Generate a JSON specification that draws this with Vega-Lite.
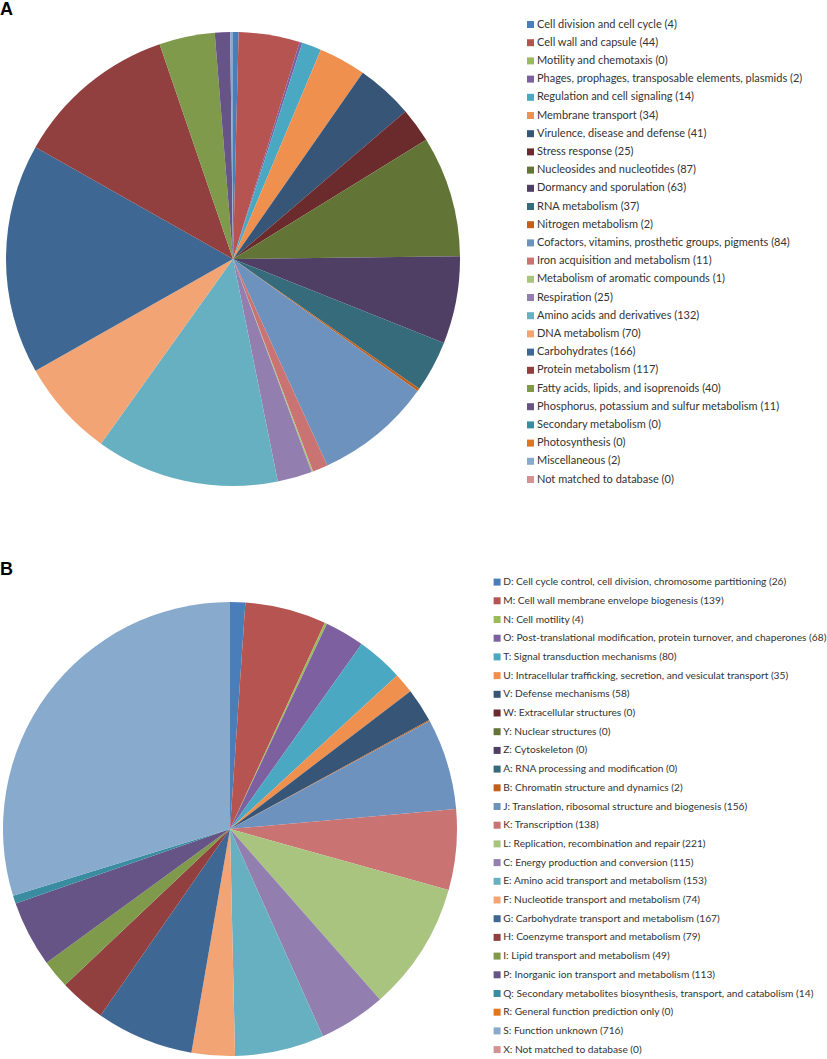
{
  "$schema": "https://vega.github.io/schema/vega-lite/v6.json",
  "padding": {"left": 0, "top": 1, "right": 0, "bottom": 0},
  "background": "white",
  "config": {"view": {"stroke": null}},
  "spacing": 75,
  "resolve": {"scale": {"color": "independent"}},
  "datasets": {
    "A": [
      {"n": 1, "label": "Cell division and cell cycle (4)", "count": 4},
      {"n": 2, "label": "Cell wall and capsule (44)", "count": 44},
      {"n": 3, "label": "Motility and chemotaxis (0)", "count": 0},
      {"n": 4, "label": "Phages, prophages, transposable elements, plasmids (2)", "count": 2},
      {"n": 5, "label": "Regulation and cell signaling (14)", "count": 14},
      {"n": 6, "label": "Membrane transport (34)", "count": 34},
      {"n": 7, "label": "Virulence, disease and defense (41)", "count": 41},
      {"n": 8, "label": "Stress response (25)", "count": 25},
      {"n": 9, "label": "Nucleosides and nucleotides (87)", "count": 87},
      {"n": 10, "label": "Dormancy and sporulation (63)", "count": 63},
      {"n": 11, "label": "RNA metabolism (37)", "count": 37},
      {"n": 12, "label": "Nitrogen metabolism (2)", "count": 2},
      {"n": 13, "label": "Cofactors, vitamins, prosthetic groups, pigments (84)", "count": 84},
      {"n": 14, "label": "Iron acquisition and metabolism (11)", "count": 11},
      {"n": 15, "label": "Metabolism of aromatic compounds (1)", "count": 1},
      {"n": 16, "label": "Respiration (25)", "count": 25},
      {"n": 17, "label": "Amino acids and derivatives (132)", "count": 132},
      {"n": 18, "label": "DNA metabolism (70)", "count": 70},
      {"n": 19, "label": "Carbohydrates (166)", "count": 166},
      {"n": 20, "label": "Protein metabolism (117)", "count": 117},
      {"n": 21, "label": "Fatty acids, lipids, and isoprenoids (40)", "count": 40},
      {"n": 22, "label": "Phosphorus, potassium and sulfur metabolism (11)", "count": 11},
      {"n": 23, "label": "Secondary metabolism (0)", "count": 0},
      {"n": 24, "label": "Photosynthesis (0)", "count": 0},
      {"n": 25, "label": "Miscellaneous (2)", "count": 2},
      {"n": 26, "label": "Not matched to database (0)", "count": 0}
    ],
    "B": [
      {"n": 1, "label": "D: Cell cycle control, cell division, chromosome partitioning (26)", "count": 26},
      {"n": 2, "label": "M: Cell wall membrane envelope biogenesis (139)", "count": 139},
      {"n": 3, "label": "N: Cell motility (4)", "count": 4},
      {"n": 4, "label": "O: Post-translational modification, protein turnover, and chaperones (68)", "count": 68},
      {"n": 5, "label": "T: Signal transduction mechanisms (80)", "count": 80},
      {"n": 6, "label": "U: Intracellular trafficking, secretion, and vesiculat transport (35)", "count": 35},
      {"n": 7, "label": "V: Defense mechanisms (58)", "count": 58},
      {"n": 8, "label": "W: Extracellular structures (0)", "count": 0},
      {"n": 9, "label": "Y: Nuclear structures (0)", "count": 0},
      {"n": 10, "label": "Z: Cytoskeleton (0)", "count": 0},
      {"n": 11, "label": "A: RNA processing and modification (0)", "count": 0},
      {"n": 12, "label": "B: Chromatin structure and dynamics (2)", "count": 2},
      {"n": 13, "label": "J: Translation, ribosomal structure and biogenesis (156)", "count": 156},
      {"n": 14, "label": "K: Transcription (138)", "count": 138},
      {"n": 15, "label": "L: Replication, recombination and repair (221)", "count": 221},
      {"n": 16, "label": "C: Energy production and conversion (115)", "count": 115},
      {"n": 17, "label": "E: Amino acid transport and metabolism (153)", "count": 153},
      {"n": 18, "label": "F: Nucleotide transport and metabolism (74)", "count": 74},
      {"n": 19, "label": "G: Carbohydrate transport and metabolism (167)", "count": 167},
      {"n": 20, "label": "H: Coenzyme transport and metabolism (79)", "count": 79},
      {"n": 21, "label": "I: Lipid transport and metabolism (49)", "count": 49},
      {"n": 22, "label": "P: Inorganic ion transport and metabolism (113)", "count": 113},
      {"n": 23, "label": "Q: Secondary metabolites biosynthesis, transport, and catabolism (14)", "count": 14},
      {"n": 24, "label": "R: General function prediction only (0)", "count": 0},
      {"n": 25, "label": "S: Function unknown (716)", "count": 716},
      {"n": 26, "label": "X: Not matched to database (0)", "count": 0}
    ]
  },
  "vconcat": [
    {
      "title": {"text": "A", "anchor": "start", "fontSize": 18, "fontWeight": "bold", "font": "Liberation Sans", "color": "#000", "offset": 0},
      "width": 466,
      "height": 454,
      "data": {"name": "A"},
      "mark": {"type": "arc", "outerRadius": 227},
      "encoding": {
        "theta": {"field": "count", "type": "quantitative", "stack": true},
        "order": {"field": "n", "type": "quantitative"},
        "color": {
          "field": "label", "type": "nominal", "sort": null,
          "scale": {"range": ["#4A7EBB","#B65452","#9BBB59","#7D60A0","#4AA8C2","#F0904F","#375577","#6B2B2D","#637536","#503F65","#366B7B","#C0601A","#6D92BE","#C97372","#A9C47F","#927FAF","#67B0C2","#F2A474","#3F6794","#923F40","#7F9A4B","#655485","#3A8CA0","#E2761D","#88AACD","#D49292"]},
          "legend": {"title": null, "orient": "none", "legendX": 525, "legendY": -13, "symbolType": "square", "symbolSize": 49, "symbolStrokeWidth": 0, "labelFont": "Lato", "labelFontSize": 11, "labelColor": "#333333", "labelLimit": 400, "labelOffset": 1, "rowPadding": 6.2, "padding": 0}
        }
      }
    },
    {
      "title": {"text": "B", "anchor": "start", "fontSize": 18, "fontWeight": "bold", "font": "Liberation Sans", "color": "#000", "offset": -2},
      "width": 460,
      "height": 454,
      "data": {"name": "B"},
      "mark": {"type": "arc", "outerRadius": 227},
      "encoding": {
        "theta": {"field": "count", "type": "quantitative", "stack": true},
        "order": {"field": "n", "type": "quantitative"},
        "color": {
          "field": "label", "type": "nominal", "sort": null,
          "scale": {"range": ["#4A7EBB","#B65452","#9BBB59","#7D60A0","#4AA8C2","#F0904F","#375577","#6B2B2D","#637536","#503F65","#366B7B","#C0601A","#6D92BE","#C97372","#A9C47F","#927FAF","#67B0C2","#F2A474","#3F6794","#923F40","#7F9A4B","#655485","#3A8CA0","#E2761D","#88AACD","#D49292"]},
          "legend": {"title": null, "orient": "none", "legendX": 492, "legendY": -25, "symbolType": "square", "symbolSize": 49, "symbolStrokeWidth": 0, "labelFont": "Lato", "labelFontSize": 10.2, "labelColor": "#333333", "labelLimit": 400, "labelOffset": 1, "rowPadding": 7.7, "padding": 0}
        }
      }
    }
  ]
}
